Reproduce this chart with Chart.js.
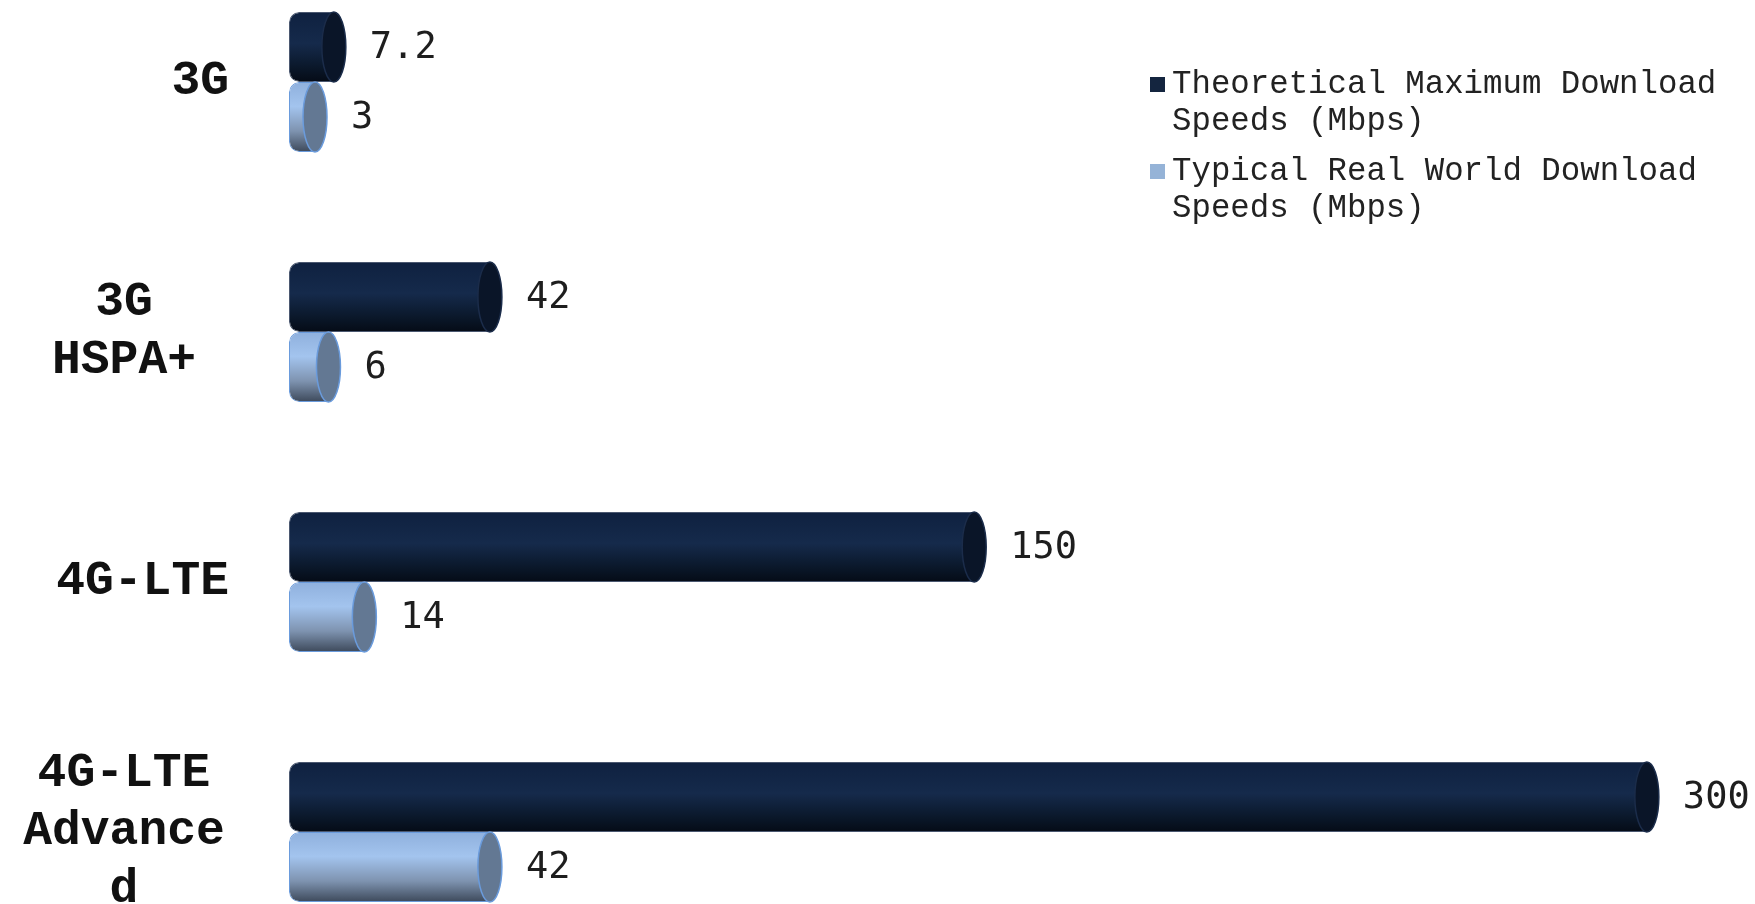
<!DOCTYPE html>
<html lang="en">
<head>
    <meta charset="UTF-8">
    <title>Mobile Download Speeds</title>
    <script src="https://cdn.jsdelivr.net/npm/chart.js"></script>
    <style>
        html, body {
            margin: 0;
            width: 1755px;
            height: 904px;
            overflow: hidden;
            background: #fff;
        }
        #wrap {
            position: absolute;
            left: 0;
            top: -43px;
            width: 1755px;
            height: 1000px;
        }
        #legend {
            position: absolute;
            left: 1150px;
            top: 66px;
            font: 32.4px "Liberation Mono", monospace;
            line-height: 37px;
            color: #222;
        }
        .item {
            display: flex;
            align-items: flex-start;
            margin-bottom: 13px;
        }
        .swatch {
            flex: none;
            width: 15px;
            height: 15px;
            margin-top: 11px;
            margin-right: 7px;
        }
        .label {
            width: 575px;
        }
    </style>
</head>
<body>

    <div id="wrap"><canvas id="speedChart"></canvas></div>
    <div id="legend"></div>

    <script>
        // data
        const categories = [["3G"], ["3G", "HSPA+"], ["4G-LTE"], ["4G-LTE", "Advance", "d"]];
        const seriesNames = ["Theoretical Maximum Download Speeds (Mbps)", "Typical Real World Download Speeds (Mbps)"];
        const theoreticalMax = [7.2, 42, 150, 300];
        const typicalReal = [3, 6, 14, 42];

        const swatchColors = ["#14253f", "#95b3d7"];
        const bodyStops = [
            [[0, "#0f2140"], [0.45, "#152a4b"], [0.8, "#0a1729"], [1, "#050b16"]],
            [[0, "#8fb0dd"], [0.35, "#a3c4ee"], [0.7, "#7e93b0"], [1, "#3d495a"]]
        ];
        const capFill = ["#0a1528", "#637893"];
        const capEdge = ["#1b2c4a", "#6a9bdc"];
        const capRx = 12;

        // legend as html, from the series names
        let legendHtml = "";
        seriesNames.forEach((name, i) => {
            legendHtml += `<div class="item"><span class="swatch" style="background:${swatchColors[i]}"></span><span class="label">${name}</span></div>`;
        });
        document.getElementById("legend").innerHTML = legendHtml;

        // gradient bodies, end caps, value labels and category labels
        const cylinders = {
            id: "cylinders",
            beforeDatasetsDraw(chart) {
                const ctx = chart.ctx;
                chart.data.datasets.forEach((ds, di) => {
                    chart.getDatasetMeta(di).data.forEach(bar => {
                        const top = bar.y - bar.height / 2;
                        const g = ctx.createLinearGradient(0, top, 0, top + bar.height);
                        bodyStops[di].forEach(([p, c]) => g.addColorStop(p, c));
                        bar.options = Object.assign({}, bar.options, { backgroundColor: g });
                    });
                });
            },
            afterDatasetsDraw(chart) {
                const ctx = chart.ctx;
                ctx.save();
                chart.data.datasets.forEach((ds, di) => {
                    chart.getDatasetMeta(di).data.forEach((bar, i) => {
                        ctx.beginPath();
                        ctx.ellipse(bar.x, bar.y, capRx, bar.height / 2, 0, 0, Math.PI * 2);
                        ctx.fillStyle = capFill[di];
                        ctx.fill();
                        ctx.lineWidth = 1.5;
                        ctx.strokeStyle = capEdge[di];
                        ctx.stroke();

                        ctx.font = '37px "DejaVu Sans Mono"';
                        ctx.fillStyle = "#1e1e1e";
                        ctx.textAlign = "left";
                        ctx.textBaseline = "middle";
                        ctx.fillText(String(ds.data[i]), bar.x + capRx + 24, bar.y + 1);
                    });
                });

                const yScale = chart.scales.y;
                const lineH = 58;
                ctx.font = 'bold 48px "Liberation Mono"';
                ctx.fillStyle = "#111";
                categories.forEach((lines, i) => {
                    const yc = yScale.getPixelForTick(i);
                    const y0 = yc - (lines.length - 1) * lineH / 2;
                    lines.forEach((t, j) => {
                        if (lines.length === 1) {
                            ctx.textAlign = "right";
                            ctx.fillText(t, 229, y0 + j * lineH);
                        } else {
                            ctx.textAlign = "center";
                            ctx.fillText(t, 124, y0 + j * lineH);
                        }
                    });
                });
                ctx.restore();
            }
        };

        const barStyle = {
            base: -2.8,
            borderSkipped: false,
            borderRadius: { topLeft: 10, bottomLeft: 10, topRight: 0, bottomRight: 0 },
            borderWidth: 1,
            barPercentage: 1,
            categoryPercentage: 0.56
        };

        new Chart(document.getElementById("speedChart"), {
            type: "bar",
            data: {
                labels: categories,
                datasets: [
                    Object.assign({ label: seriesNames[0], data: theoreticalMax, backgroundColor: swatchColors[0], borderColor: "#4b5870" }, barStyle),
                    Object.assign({ label: seriesNames[1], data: typicalReal, backgroundColor: swatchColors[1], borderColor: "#6a9bdc" }, barStyle)
                ]
            },
            options: {
                indexAxis: "y",
                responsive: true,
                maintainAspectRatio: false,
                animation: false,
                layout: { padding: { left: 289, right: 5, top: 0, bottom: 0 } },
                plugins: {
                    legend: { display: false },
                    tooltip: { enabled: false }
                },
                scales: {
                    x: { display: false, min: -2.8, max: 323 },
                    y: { display: false, offset: true }
                }
            },
            plugins: [cylinders]
        });
    </script>

</body>
</html>
